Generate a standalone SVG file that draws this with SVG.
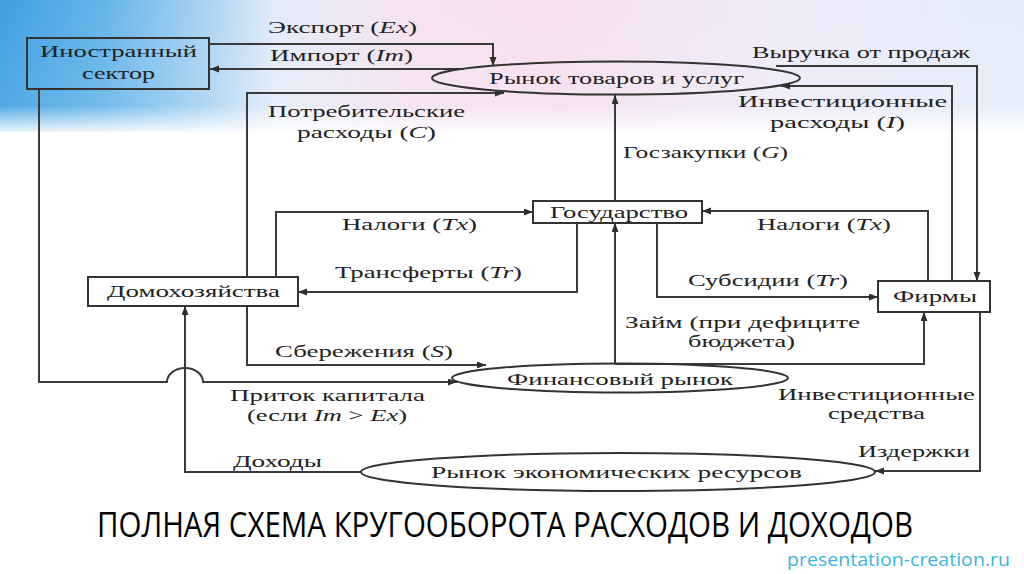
<svg xmlns="http://www.w3.org/2000/svg" width="1024" height="574" viewBox="0 0 1024 574">
<defs>
<linearGradient id="bgH" x1="0" y1="0" x2="1" y2="0">
<stop offset="0" stop-color="#3f9fe1"/>
<stop offset="0.1" stop-color="#64b4ea"/>
<stop offset="0.2" stop-color="#a9d2f2"/>
<stop offset="0.27" stop-color="#e4ecf8"/>
<stop offset="0.4" stop-color="#f6e2f2"/>
<stop offset="0.55" stop-color="#f5dff1"/>
<stop offset="0.75" stop-color="#efeaf8"/>
<stop offset="1" stop-color="#e3edfa"/>
</linearGradient>
<linearGradient id="bgV" x1="0" y1="0" x2="0" y2="1">
<stop offset="0" stop-color="#ffffff" stop-opacity="0"/>
<stop offset="0.8" stop-color="#ffffff" stop-opacity="0.1"/>
<stop offset="1" stop-color="#ffffff" stop-opacity="0.9"/>
</linearGradient>
<marker id="ah" markerUnits="userSpaceOnUse" markerWidth="10" markerHeight="8" refX="9" refY="3.5" orient="auto">
<path d="M0,0 L9,3.5 L0,7 z" fill="#2e2e2e"/>
</marker>
<style>
.ln{fill:none;stroke:#3a3a3a;stroke-width:2}
.ar{marker-end:url(#ah)}
.box{fill:none;stroke:#333;stroke-width:2}
.t{font-family:"Liberation Serif","Times New Roman",serif;font-size:17px;fill:#222}
.i{font-style:italic}
</style>
</defs>
<rect width="1024" height="574" fill="#ffffff"/>
<rect x="0" y="0" width="1024" height="132" fill="url(#bgH)"/>
<rect x="0" y="0" width="1024" height="132" fill="url(#bgV)"/>

<g id="connectors">
<path class="ln ar" d="M209,44 H493 V66"/>
<path class="ln ar" d="M464,69 H210"/>
<path class="ln ar" d="M39,89 V382 H167 A18,14 0 0 1 203,382 H457"/>
<path class="ln ar" d="M247,277 V93 H504"/>
<path class="ln ar" d="M247,306 V365 H486"/>
<path class="ln ar" d="M276,277 V212 H533"/>
<path class="ln ar" d="M577,223 V292 H298"/>
<path class="ln ar" d="M615,201 V95"/>
<path class="ln ar" d="M928,281 V211 H702"/>
<path class="ln ar" d="M657,223 V297 H878"/>
<path class="ln ar" d="M952,281 V86 H781"/>
<path class="ln ar" d="M776,66 H977 V281"/>
<path class="ln ar" d="M615,364 V223"/>
<path class="ln ar" d="M615,364 H924 V312"/>
<path class="ln ar" d="M980,312 V471 H875"/>
<path class="ln ar" d="M361,472 H185 V306"/>
</g>

<g id="foreign">
<rect class="box" x="27" y="38" width="182" height="51"/>
<text class="t" x="40" y="57" textLength="157" lengthAdjust="spacingAndGlyphs">Иностранный</text>
<text class="t" x="82" y="79" textLength="73" lengthAdjust="spacingAndGlyphs">сектор</text>
</g>
<g id="goods-market">
<ellipse class="box" cx="616" cy="78" rx="184" ry="16.5"/>
<text class="t" x="489" y="84" textLength="255" lengthAdjust="spacingAndGlyphs">Рынок товаров и услуг</text>
</g>
<g id="government">
<rect class="box" x="533" y="201" width="169" height="22"/>
<text class="t" x="550" y="218" textLength="138" lengthAdjust="spacingAndGlyphs">Государство</text>
</g>
<g id="households">
<rect class="box" x="88" y="277" width="210" height="29"/>
<text class="t" x="107" y="297" textLength="173" lengthAdjust="spacingAndGlyphs">Домохозяйства</text>
</g>
<g id="firms">
<rect class="box" x="878" y="281" width="112" height="31"/>
<text class="t" x="893" y="302" textLength="84" lengthAdjust="spacingAndGlyphs">Фирмы</text>
</g>
<g id="financial-market">
<ellipse class="box" cx="620" cy="378" rx="168" ry="14.5"/>
<text class="t" x="507" y="385" textLength="226" lengthAdjust="spacingAndGlyphs">Финансовый рынок</text>
</g>
<g id="resource-market">
<ellipse class="box" cx="618" cy="472" rx="257" ry="19"/>
<text class="t" x="431" y="478" textLength="371" lengthAdjust="spacingAndGlyphs">Рынок экономических ресурсов</text>
</g>

<g id="labels">
<text class="t" x="268" y="33" textLength="149" lengthAdjust="spacingAndGlyphs">Экспорт (<tspan class="i">Ex</tspan>)</text>
<text class="t" x="270" y="61" textLength="143" lengthAdjust="spacingAndGlyphs">Импорт (<tspan class="i">Im</tspan>)</text>
<text class="t" x="268" y="117" textLength="197" lengthAdjust="spacingAndGlyphs">Потребительские</text>
<text class="t" x="297" y="138" textLength="139" lengthAdjust="spacingAndGlyphs">расходы (<tspan class="i">C</tspan>)</text>
<text class="t" x="752" y="58" textLength="218" lengthAdjust="spacingAndGlyphs">Выручка от продаж</text>
<text class="t" x="738" y="107" textLength="209" lengthAdjust="spacingAndGlyphs">Инвестиционные</text>
<text class="t" x="770" y="128" textLength="135" lengthAdjust="spacingAndGlyphs">расходы (<tspan class="i">I</tspan>)</text>
<text class="t" x="623" y="158" textLength="165" lengthAdjust="spacingAndGlyphs">Госзакупки (<tspan class="i">G</tspan>)</text>
<text class="t" x="342" y="230" textLength="135" lengthAdjust="spacingAndGlyphs">Налоги (<tspan class="i">Tx</tspan>)</text>
<text class="t" x="757" y="230" textLength="134" lengthAdjust="spacingAndGlyphs">Налоги (<tspan class="i">Tx</tspan>)</text>
<text class="t" x="335" y="278" textLength="187" lengthAdjust="spacingAndGlyphs">Трансферты (<tspan class="i">Tr</tspan>)</text>
<text class="t" x="688" y="286" textLength="160" lengthAdjust="spacingAndGlyphs">Субсидии (<tspan class="i">Tr</tspan>)</text>
<text class="t" x="625" y="328" textLength="235" lengthAdjust="spacingAndGlyphs">Займ (при дефиците</text>
<text class="t" x="688" y="347" textLength="107" lengthAdjust="spacingAndGlyphs">бюджета)</text>
<text class="t" x="275" y="357" textLength="178" lengthAdjust="spacingAndGlyphs">Сбережения (<tspan class="i">S</tspan>)</text>
<text class="t" x="230" y="401" textLength="195" lengthAdjust="spacingAndGlyphs">Приток капитала</text>
<text class="t" x="247" y="421" textLength="160" lengthAdjust="spacingAndGlyphs">(если <tspan class="i">Im</tspan> &gt; <tspan class="i">Ex</tspan>)</text>
<text class="t" x="778" y="400" textLength="197" lengthAdjust="spacingAndGlyphs">Инвестиционные</text>
<text class="t" x="828" y="419" textLength="97" lengthAdjust="spacingAndGlyphs">средства</text>
<text class="t" x="858" y="457" textLength="112" lengthAdjust="spacingAndGlyphs">Издержки</text>
<text class="t" x="233" y="467" textLength="89" lengthAdjust="spacingAndGlyphs">Доходы</text>
</g>

<text x="97" y="537" font-family="'Open Sans','Noto Sans',sans-serif" font-size="34" fill="#000" textLength="816" lengthAdjust="spacingAndGlyphs">ПОЛНАЯ СХЕМА КРУГООБОРОТА РАСХОДОВ И ДОХОДОВ</text>
<text x="787" y="566" font-family="'Open Sans','Noto Sans',sans-serif" font-size="18" fill="#3db5dd" textLength="223" lengthAdjust="spacingAndGlyphs">presentation-creation.ru</text>
</svg>
